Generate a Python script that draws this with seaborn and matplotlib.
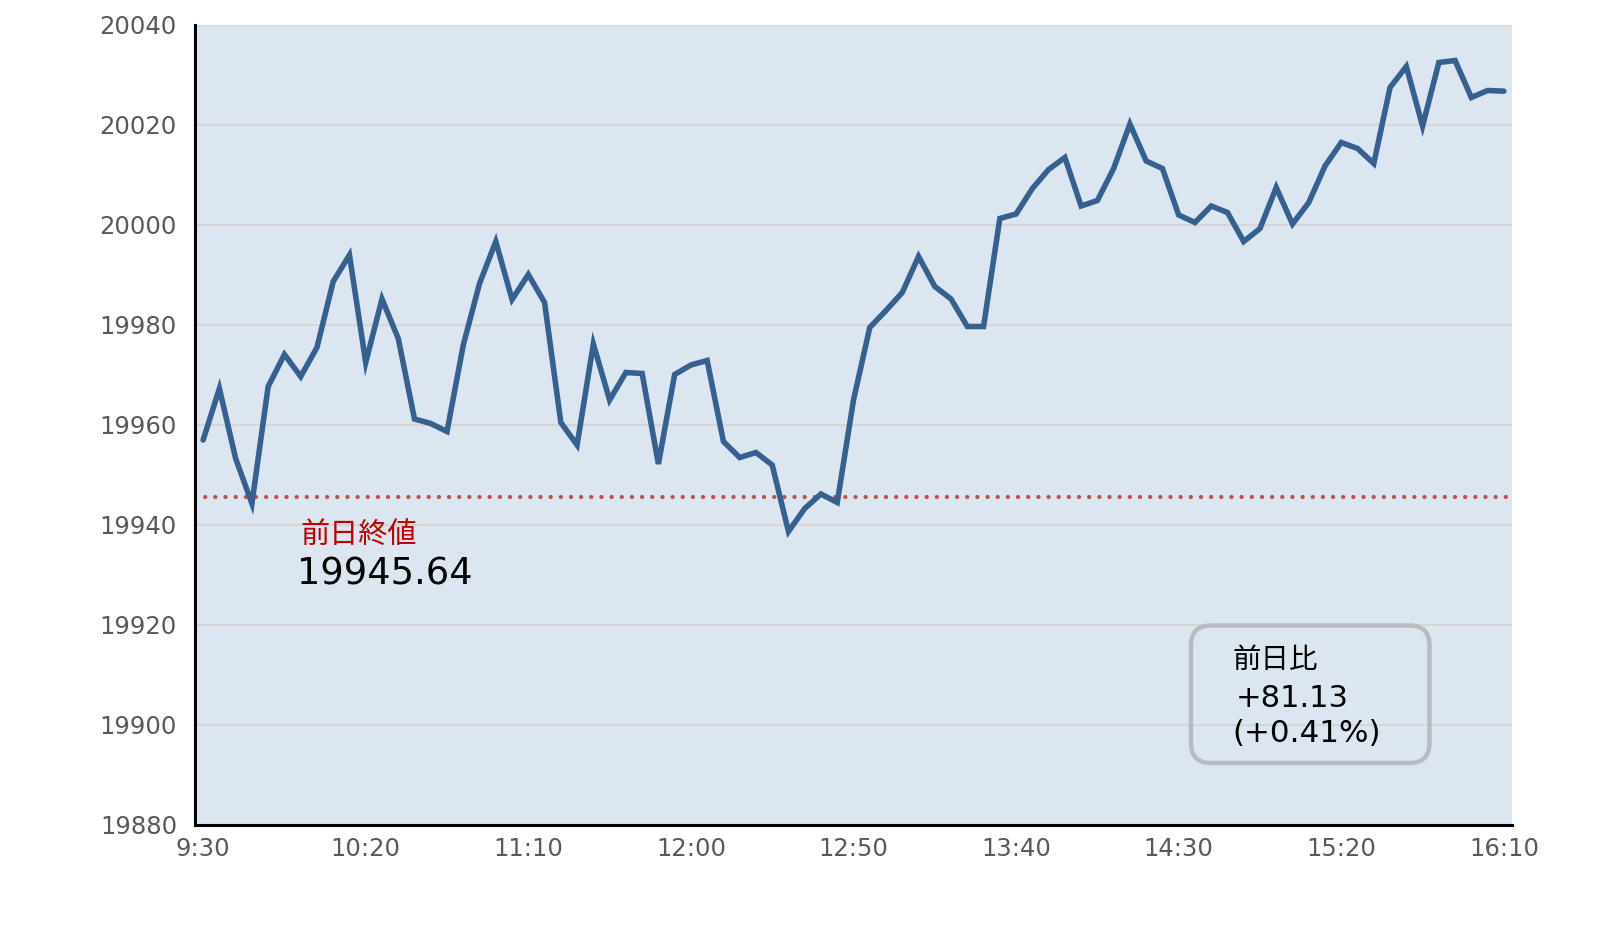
import matplotlib
matplotlib.use("Agg")
import matplotlib.pyplot as plt
from matplotlib.patches import FancyBboxPatch
import seaborn as sns
import pandas as pd
import numpy as np

# ---- data ----
values = [
    19957.0, 19967.3, 19953.3, 19944.3, 19967.7, 19974.1, 19969.7, 19975.5, 19988.7, 19994.0,
    19972.5, 19985.2, 19977.3, 19961.2, 19960.3, 19958.7, 19976.0, 19988.3, 19996.7, 19985.1,
    19990.1, 19984.5, 19960.5, 19956.0, 19976.2, 19965.0, 19970.5, 19970.3, 19952.2, 19970.1,
    19972.0, 19972.9, 19956.7, 19953.5, 19954.5, 19952.0, 19938.7, 19943.3, 19946.2, 19944.5,
    19965.0, 19979.5, 19982.9, 19986.5, 19993.7, 19987.7, 19985.2, 19979.7, 19979.7, 20001.3,
    20002.2, 20007.3, 20011.1, 20013.5, 20003.8, 20004.9, 20011.3, 20020.2, 20012.8, 20011.3,
    20002.0, 20000.5, 20003.8, 20002.5, 19996.7, 19999.3, 20007.5, 20000.2, 20004.5, 20011.8,
    20016.5, 20015.3, 20012.3, 20027.5, 20031.7, 20019.8, 20032.5, 20032.9, 20025.5, 20026.9,
    20026.77,
]
tick_labels = ["9:30", "10:20", "11:10", "12:00", "12:50", "13:40", "14:30", "15:20", "16:10"]
y_ticks = [19880, 19900, 19920, 19940, 19960, 19980, 20000, 20020, 20040]
prev_close = 19945.64
prev_label = "前日終値"
change_title = "前日比"
change_value = "+81.13"
change_pct = "(+0.41%)"

df = pd.DataFrame({"idx": np.arange(len(values)), "price": values})

sns.set_theme(style="white")
plt.rcParams["font.family"] = ["DejaVu Sans", "Noto Sans CJK JP"]

fig = plt.figure(figsize=(16.07, 9.31), dpi=100)
ax = fig.add_axes([195 / 1607, 106 / 931, (1512 - 195) / 1607, 800 / 931])
ax.set_facecolor("#dce6f1")

ax.set_xlim(-0.5, len(values) - 0.5)
ax.set_ylim(19880, 20040)
ax.set_yticks(y_ticks)
ax.yaxis.grid(True, color="#d6d6d6", linewidth=1.5)
ax.set_axisbelow(True)

ax.axhline(prev_close, color="#c0504d", linewidth=3.1,
           linestyle=(0, (0.01, 2.35)), dash_capstyle="round", zorder=2)

sns.lineplot(data=df, x="idx", y="price", ax=ax, color="#35608f",
             linewidth=4.0, zorder=3, solid_joinstyle="miter")

for s in ["top", "right"]:
    ax.spines[s].set_visible(False)
for s in ["left", "bottom"]:
    ax.spines[s].set_color("black")
    ax.spines[s].set_linewidth(2.2)

ax.set_xticks(np.arange(0, len(values), 10))
ax.set_xticklabels(tick_labels)
ax.set_xticks(list(np.arange(4.5, 75, 10)) + [79.5], minor=True)
ax.tick_params(axis="x", which="major", length=0, pad=8.5, labelsize=17.5, labelcolor="#595959")
ax.tick_params(axis="x", which="minor", direction="in", length=3.5, width=2, color="black")
ax.tick_params(axis="y", which="major", direction="in", length=4, width=2, color="black",
               pad=13, labelsize=17.5, labelcolor="#595959")
ax.set_xlabel("")
ax.set_ylabel("")

fig.text(300 / 1607, 1 - 535.5 / 931, prev_label, color="#c00000", fontsize=21,
         va="center", ha="left", family=["Noto Sans CJK JP", "DejaVu Sans"])
fig.text(297 / 1607, 1 - 574 / 931, f"{prev_close:.2f}", color="black", fontsize=26.5,
         va="center", ha="left")

box = FancyBboxPatch((11.91, (931 - 763) / 100), 2.385, 1.375,
                     boxstyle="round,pad=0,rounding_size=0.2",
                     transform=fig.dpi_scale_trans, facecolor="none",
                     edgecolor="#b8bcc2", linewidth=3.2, zorder=5)
fig.patches.append(box)
fig.text(1232 / 1607, 1 - 660 / 931, change_title, color="black", fontsize=20.5,
         va="center", ha="left", family=["Noto Sans CJK JP", "DejaVu Sans"])
fig.text(1236 / 1607, 1 - 698.5 / 931, change_value, color="black", fontsize=22,
         va="center", ha="left")
fig.text(1232 / 1607, 1 - 733 / 931, change_pct, color="black", fontsize=22.3,
         va="center", ha="left")

fig.savefig("out.png", dpi=100)
